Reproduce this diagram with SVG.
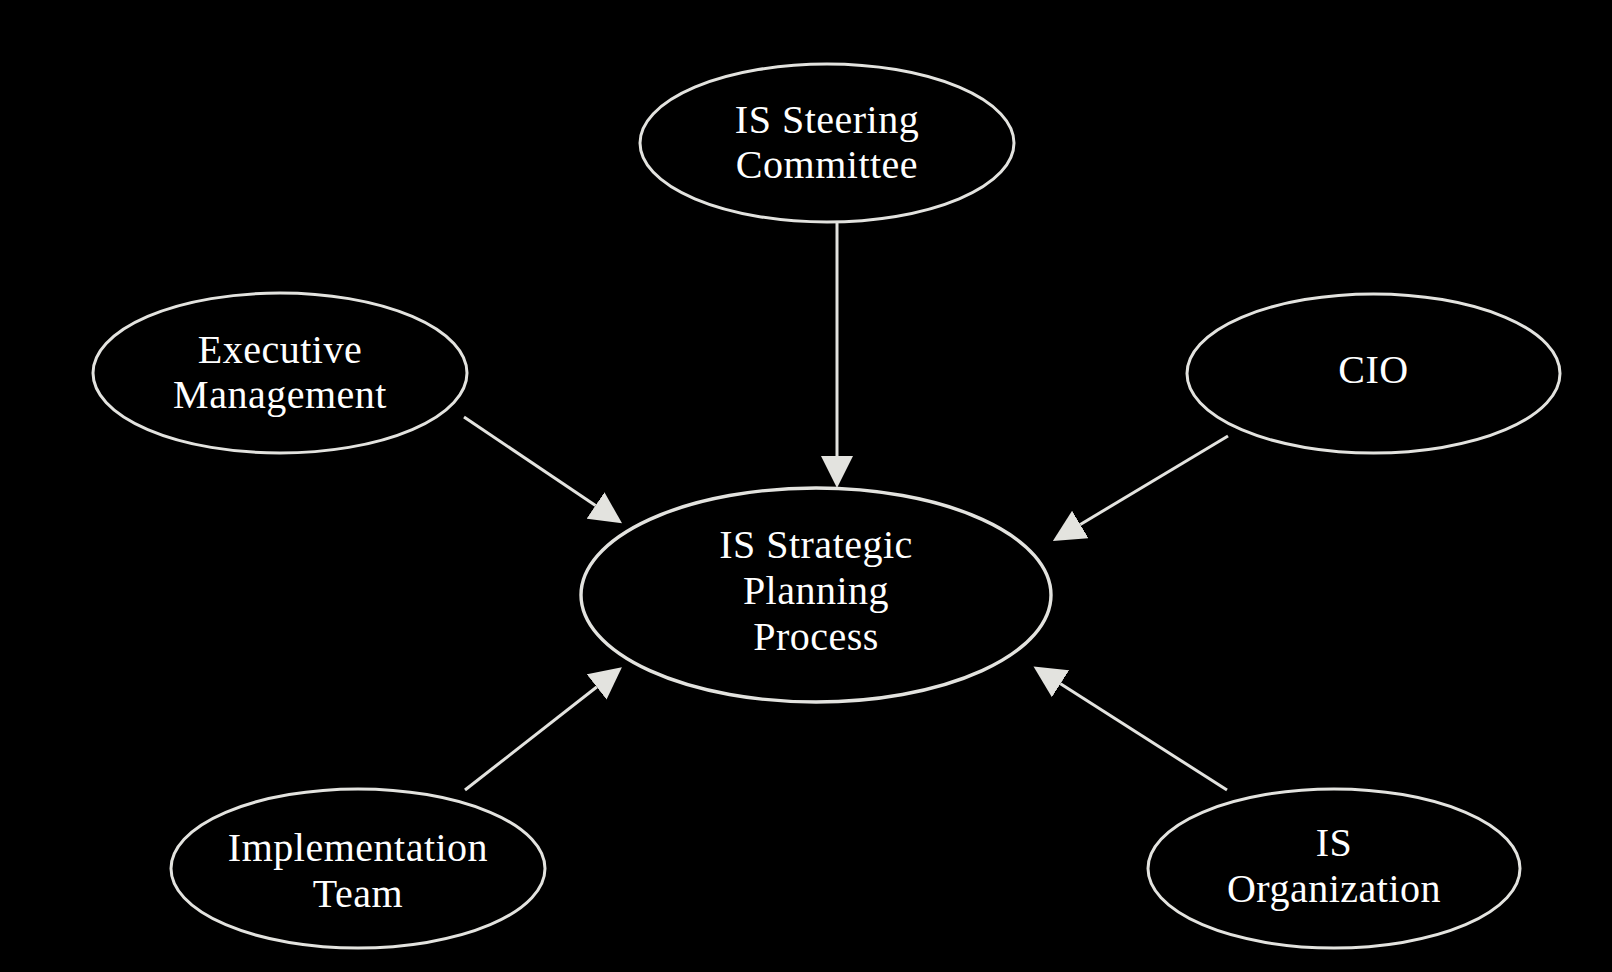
<svg xmlns="http://www.w3.org/2000/svg" width="1612" height="972" viewBox="0 0 1612 972">
<style>
.node ellipse{fill:#000;stroke:#e3e3df;stroke-width:3}
.node text{fill:#fff;font-family:"Liberation Serif","Times New Roman",serif;font-size:40px;letter-spacing:0.5px;text-anchor:middle}
.edge{stroke:#e3e3df;stroke-width:3;fill:none;marker-end:url(#ah)}
</style>
<defs>
<marker id="ah" viewBox="0 0 32 32" refX="0" refY="16" markerWidth="32" markerHeight="32" markerUnits="userSpaceOnUse" orient="auto">
<path d="M0,0 L32,16 L0,32 z" fill="#e3e3df"/>
</marker>
</defs>
<rect width="1612" height="972" fill="#000"/>
<g id="connectors">
<line class="edge" x1="837" y1="223" x2="837" y2="456"/>
<line class="edge" x1="464" y1="417" x2="595.5" y2="505.5"/>
<line class="edge" x1="1228" y1="436" x2="1080.3" y2="524.5"/>
<line class="edge" x1="465" y1="790" x2="596.7" y2="687"/>
<line class="edge" x1="1227" y1="790" x2="1060.5" y2="683.7"/>
</g>
<g id="steering" class="node">
<ellipse cx="827" cy="143" rx="187" ry="79"/>
<text x="827" y="133">IS Steering</text>
<text x="827" y="178">Committee</text>
</g>
<g id="executive" class="node">
<ellipse cx="280" cy="373" rx="187" ry="80"/>
<text x="280" y="363">Executive</text>
<text x="280" y="408">Management</text>
</g>
<g id="cio" class="node">
<ellipse cx="1373.5" cy="373.5" rx="186.5" ry="79.5"/>
<text x="1373.5" y="383">CIO</text>
</g>
<g id="central" class="node">
<ellipse cx="816" cy="595" rx="235" ry="107" style="stroke-width:3.4"/>
<text x="816" y="558">IS Strategic</text>
<text x="816" y="604">Planning</text>
<text x="816" y="650">Process</text>
</g>
<g id="implementation" class="node">
<ellipse cx="358" cy="868.5" rx="187" ry="79.5"/>
<text x="358" y="861">Implementation</text>
<text x="358" y="907">Team</text>
</g>
<g id="isorg" class="node">
<ellipse cx="1334" cy="868.5" rx="186" ry="79.5"/>
<text x="1334" y="856">IS</text>
<text x="1334" y="902">Organization</text>
</g>
</svg>
